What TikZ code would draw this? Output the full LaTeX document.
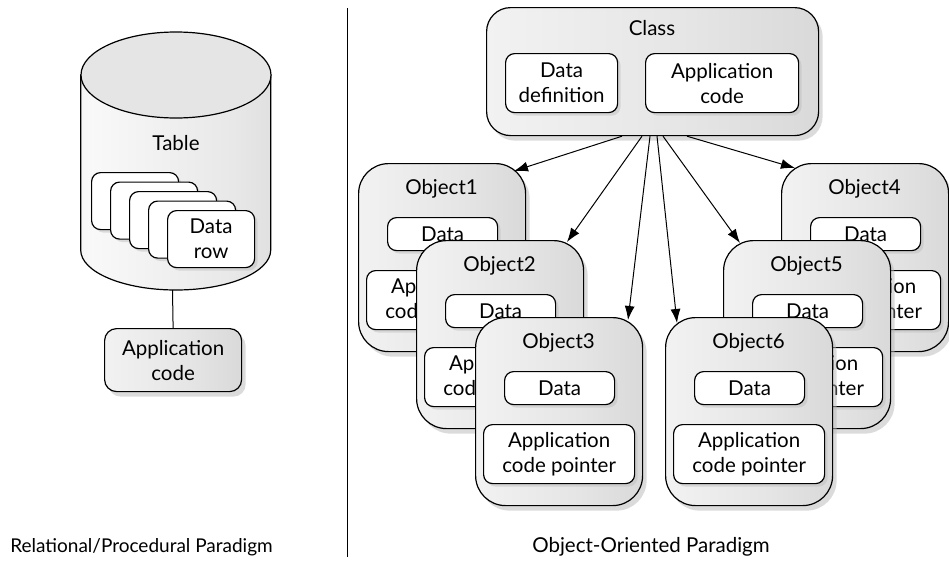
\documentclass[tikz,border=0pt]{standalone}
\usepackage{fontspec}
\setmainfont{Lato}
\usetikzlibrary{shadows,arrows.meta,calc}
\pgfdeclarehorizontalshading{boxshade}{100bp}{color(0bp)=(gray!46); color(5bp)=(gray!24); color(18bp)=(gray!8); color(55bp)=(gray!20); color(88bp)=(gray!36); color(100bp)=(gray!52)}
\pgfdeclarehorizontalshading{cylshade}{100bp}{color(0bp)=(gray!44); color(8bp)=(gray!20); color(28bp)=(gray!5); color(65bp)=(gray!18); color(92bp)=(gray!34); color(100bp)=(gray!46)}
\tikzset{
  outline/.style={draw=black, line width=1.2pt},
  txt/.style={font=\fontsize{20.5}{25}\selectfont, inner sep=0pt, align=center},
  graybox/.style={outline, rounded corners=#1, shading=boxshade, inner sep=0pt,
    drop shadow={shadow xshift=4pt, shadow yshift=-5pt, fill=gray!55}},
  graybox/.default=12pt,
  whitebox/.style={outline, fill=white, rounded corners=9pt, inner sep=0pt, align=center,
    font=\fontsize{20.5}{25}\selectfont,
    drop shadow={shadow xshift=3pt, shadow yshift=-3pt, fill=gray!50}},
  objouter/.style={graybox=30pt, minimum width=167pt, minimum height=188pt},
  arr/.style={line width=1pt, -{Latex[length=14pt,width=10pt]}},
  plainline/.style={line width=1pt}
}
\newcommand\objbox[4]{%
  \node[objouter, anchor=north west] (#1) at (#2,#3) {};
  \node[txt] (#1t) at (#2+83.5,#3+26) {#4};
  \node[whitebox, minimum width=110pt, minimum height=33pt, anchor=north west] (#1d) at (#2+29,#3+54) {Data};
  \node[whitebox, minimum width=151pt, minimum height=59pt, anchor=north west] (#1a) at (#2+8,#3+107) {Application\\code pointer};
}
\begin{document}
\begin{tikzpicture}[x=1pt,y=-1pt]
\useasboundingbox[fill=white] (0,0) rectangle (949,565);

% ---- cylinder ----
\path[outline, shading=cylshade] (80.7,75) -- (80.7,250)
  .. controls (80.7,272.1) and (123.5,290) .. (176,290)
  .. controls (228.5,290) and (270.7,272.1) .. (270.7,250) -- (270.7,75) -- cycle;
\draw[outline, fill=gray!20] (176,75) ellipse [x radius=95, y radius=43];
\coordinate (cylbot) at (172.5,290);
\node[txt] (table) at (176,143) {Table};
\foreach \i in {0,...,3}{
  \node[whitebox, minimum width=87pt, minimum height=57pt, anchor=north west] (card\i) at (91+19*\i,172+9.5*\i) {};
}
\node[whitebox, minimum width=87pt, minimum height=57pt, anchor=north west] (card4) at (167,210) {Data\\row};

\node[graybox=12pt, txt, minimum width=137pt, minimum height=63pt, anchor=north west] (appl) at (104,328) {Application\\code};
\draw[plainline] (cylbot) -- (appl.north);

% ---- divider ----
\coordinate (dtop) at (347,8);
\coordinate (dbot) at (347,557);
\draw[line width=1pt] (dtop) -- (dbot);

% ---- class ----
\node[graybox=24pt, minimum width=332pt, minimum height=128pt, anchor=north west] (class) at (486,7) {};
\node[txt] (classt) at (652,28) {Class};
\node[whitebox, minimum width=112pt, minimum height=59pt, anchor=north west] (ddef) at (505,53) {Data\\definition};
\node[whitebox, minimum width=153pt, minimum height=59pt, anchor=north west] (acode) at (645,53) {Application\\code};

% ---- objects ----
\objbox{objA}{358}{163}{Object1}
\objbox{objB}{416}{240}{Object2}
\objbox{objC}{475}{317}{Object3}
\objbox{objD}{781}{163}{Object4}
\objbox{objE}{723}{240}{Object5}
\objbox{objF}{665}{317}{Object6}

% ---- arrows ----
\coordinate (s1) at ($(class.south west)+(136,0)$);
\coordinate (s2) at ($(class.south west)+(156,0)$);
\coordinate (s3) at ($(class.south west)+(164,0)$);
\coordinate (s6) at ($(class.south west)+(171,0)$);
\coordinate (s5) at ($(class.south west)+(177,0)$);
\coordinate (s4) at ($(class.south west)+(201,0)$);
\coordinate (t1) at (514,171);
\coordinate (t2) at (567,242);
\coordinate (t3) at (628,320);
\coordinate (t6) at (677,323);
\coordinate (t5) at (740,243);
\coordinate (t4) at (795,168);
\draw[arr] (s1) -- (t1);
\draw[arr] (s2) -- (t2);
\draw[arr] (s3) -- (t3);
\draw[arr] (s6) -- (t6);
\draw[arr] (s5) -- (t5);
\draw[arr] (s4) -- (t4);

% ---- labels ----
\node[txt, font=\fontsize{19}{23}\selectfont] (lab1) at (141.5,547) {Relational/Procedural Paradigm};
\node[txt] (lab2) at (651,547) {Object-Oriented Paradigm};
\end{tikzpicture}
\end{document}
